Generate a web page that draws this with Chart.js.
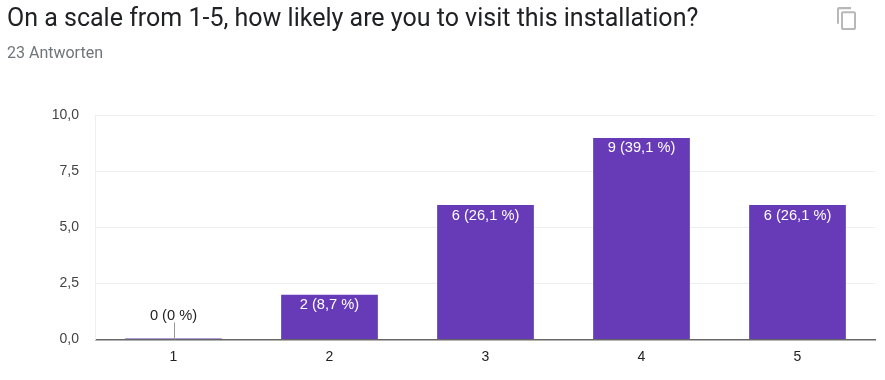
<!DOCTYPE html>
<html><head><meta charset="utf-8">
<style>
html,body{margin:0;padding:0;background:#fff;width:885px;height:380px;overflow:hidden}
#wrap{position:relative;width:885px;height:380px}
canvas{position:absolute;left:0;top:0}
#title{position:absolute;left:7px;top:2px;font:25px Roboto,sans-serif;color:#202124;white-space:nowrap;line-height:32px}
#sub{position:absolute;left:7px;top:44px;font:16px Roboto,sans-serif;color:#70757a;line-height:18px}
#icon{position:absolute;left:835px;top:6px}
</style></head><body>
<div id="wrap">
<canvas id="c" width="885" height="380"></canvas>
<div id="title">On a scale from 1-5, how likely are you to visit this installation?</div>
<div id="sub">23 Antworten</div>
<svg id="icon" width="24" height="25" viewBox="0 0 24 24" preserveAspectRatio="none"><path fill="#b8b8b8" d="M16 1H4c-1.100 0-2 .9-2 2v14h2V3h12V1zm3 4H8c-1.100 0-2 .9-2 2v14c0 1.100.9 2 2 2h11c1.100 0 2-.9 2-2V7c0-1.100-.9-2-2-2zm0 16H8V7h11v14z"/></svg>
</div>
<script src="https://cdn.jsdelivr.net/npm/chart.js@4/dist/chart.umd.min.js"></script>
<script>
const categories = ["1","2","3","4","5"];
const counts = [0,2,6,9,6];
const barLabels = ["0 (0 %)","2 (8,7 %)","6 (26,1 %)","9 (39,1 %)","6 (26,1 %)"];
const yTicks = [0,2.5,5,7.5,10];
const FONT = "'Liberation Sans', Arial, sans-serif";
const labelPlugin = {
  id:"barLabels",
  afterDatasetsDraw(chart){
    const ctx = chart.ctx, meta = chart.getDatasetMeta(0), y = chart.scales.y;
    ctx.save();
    ctx.font = "14.67px "+FONT;
    ctx.textAlign = "center";
    ctx.textBaseline = "middle";
    meta.data.forEach((bar,i)=>{
      if(counts[i]===0){
        const base = y.getPixelForValue(0);
        ctx.strokeStyle="#999999"; ctx.lineWidth=1;
        ctx.beginPath(); ctx.moveTo(Math.round(bar.x)+.5,base-17); ctx.lineTo(Math.round(bar.x)+.5,base); ctx.stroke();
        ctx.fillStyle="#222222";
        ctx.fillText(barLabels[i],bar.x,base-23.5);
      } else {
        ctx.fillStyle="#ffffff";
        ctx.fillText(barLabels[i],bar.x,bar.y+10.5);
      }
    });
    ctx.restore();
  }
};
new Chart(document.getElementById("c"),{
  type:"bar",
  data:{labels:categories,datasets:[{data:counts,backgroundColor:"#673ab7",borderWidth:0,minBarLength:1,categoryPercentage:1,barPercentage:0.62}]},
  options:{
    responsive:false,animation:false,
    layout:{padding:{top:115.5,right:9.5,left:0,bottom:0}},
    plugins:{legend:{display:false},tooltip:{enabled:false}},
    scales:{
      x:{
        afterFit(s){s.height=40.5;},
        grid:{display:false,drawTicks:false},
        border:{color:"#666666",width:1.5},
        ticks:{color:"#222222",font:{family:FONT,size:14},padding:9,maxRotation:0}
      },
      y:{
        min:0,max:10,
        afterFit(s){s.width=95.5;},
        afterBuildTicks(s){s.ticks=yTicks.map(v=>({value:v}));},
        grid:{color:"#eeeeee",lineWidth:1,drawTicks:false},
        border:{color:"#eeeeee",width:1},
        ticks:{color:"#444444",font:{family:FONT,size:14},padding:16.5,
          callback:v=>v.toFixed(1).replace(".",",")}
      }
    }
  },
  plugins:[labelPlugin]
});
</script>
</body></html>
